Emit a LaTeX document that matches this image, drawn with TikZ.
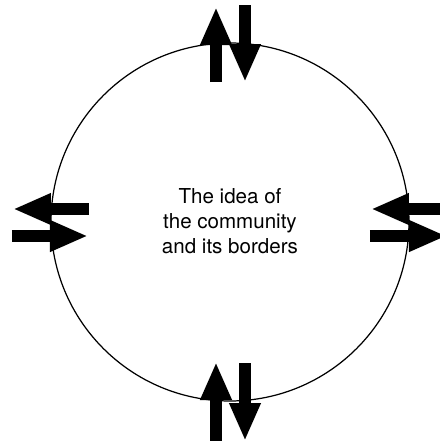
\documentclass[tikz,border=0pt]{standalone}
\usepackage{fontspec}
\setmainfont{TeX Gyre Heros}
\usetikzlibrary{arrows.meta,positioning,calc}

\begin{document}
\begin{tikzpicture}[font=\fontsize{11.7}{14.2}\selectfont, >={Triangle[length=0.76cm, width=0.58cm]}]
    \tikzset{
      border/.style={draw, line width=0.7pt},
      flow/.style={->, line width=0.24cm},
      idea/.style={align=center},
    }
    \useasboundingbox (-4.6,-4.38) rectangle (4.2,4.44);
    \clip (-4.6,-4.38) rectangle (4.2,4.44);

    \draw[border] (0,0) circle (3.58);
    \node[idea] (idea) at (0,0.02) {The idea of\\the community\\and its borders};

    % top
    \coordinate (t1) at (-0.28, 2.80);
    \coordinate (t2) at (-0.28, 4.30);
    \coordinate (t3) at ( 0.30, 4.34);
    \coordinate (t4) at ( 0.30, 2.80);
    \draw[flow] (t1) -- (t2);
    \draw[flow] (t3) -- (t4);

    % bottom
    \coordinate (b1) at (-0.28,-4.38);
    \coordinate (b2) at (-0.28,-2.80);
    \coordinate (b3) at ( 0.30,-2.82);
    \coordinate (b4) at ( 0.30,-4.38);
    \draw[flow] (b1) -- (b2);
    \draw[flow] (b3) -- (b4);

    % left
    \coordinate (l1) at (-2.82, 0.26);
    \coordinate (l2) at (-4.34, 0.26);
    \coordinate (l3) at (-4.36,-0.28);
    \coordinate (l4) at (-2.84,-0.28);
    \draw[flow] (l1) -- (l2);
    \draw[flow] (l3) -- (l4);

    % right
    \coordinate (r1) at ( 4.34, 0.26);
    \coordinate (r2) at ( 2.82, 0.26);
    \coordinate (r3) at ( 2.80,-0.28);
    \coordinate (r4) at ( 4.34,-0.28);
    \draw[flow] (r1) -- (r2);
    \draw[flow] (r3) -- (r4);
  \end{tikzpicture}
\end{document}
